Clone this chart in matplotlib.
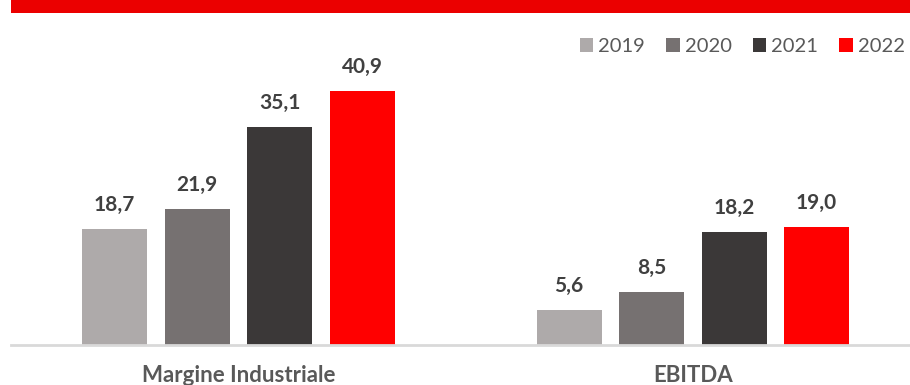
import matplotlib
matplotlib.use("Agg")
import matplotlib.pyplot as plt
import numpy as np
from matplotlib.patches import Rectangle

categories = ["Margine Industriale", "EBITDA"]
years = ["2019", "2020", "2021", "2022"]
values = {
    "2019": [18.7, 5.6],
    "2020": [21.9, 8.5],
    "2021": [35.1, 18.2],
    "2022": [40.9, 19.0],
}
labels = {
    "2019": ["18,7", "5,6"],
    "2020": ["21,9", "8,5"],
    "2021": ["35,1", "18,2"],
    "2022": ["40,9", "19,0"],
}
title = "Marginalità (€m)"
colors = ["#AEAAAA", "#767171", "#3B3838", "#FF0000"]

plt.rcParams['font.family'] = ['Lato', 'DejaVu Sans']

W, H = 910, 385
fig = plt.figure(figsize=(W/100, H/100), dpi=100)

# banner
fig.patches.append(Rectangle((11/W, 1-13/H), 1-11/W, 13/H, transform=fig.transFigure,
                             facecolor="#EB0000", edgecolor="none", zorder=0))
fig.text(470/W, 1+3/H, title, color="white", fontsize=14, fontweight="bold",
         ha="center", va="baseline")

left_px, right_px = 11, 910
base_px = 345
ax_h_px = base_px - 30
ax = fig.add_axes([left_px/W, (H-base_px)/H, (right_px-left_px)/W, ax_h_px/H])
spacing = 454.5
x0 = -0.5
x1 = x0 + (right_px-left_px)/spacing
ax.set_xlim(x0, x1)
ppu = 6.21
ax.set_ylim(0, ax_h_px/ppu)

x = np.arange(len(categories))
bw = 65/spacing
pitch = 82.5/spacing
handles = []
for i, y in enumerate(years):
    pos = x + (i-1.5)*pitch
    bars = ax.bar(pos, values[y], width=bw, color=colors[i], label=y, zorder=2)
    handles.append(bars)
    for b, lab in zip(bars, labels[y]):
        ax.annotate(lab, (b.get_x()+b.get_width()/2, b.get_height()),
                    xytext=(0, 18*0.72), textcoords="offset points",
                    ha="center", va="baseline", fontsize=15, fontweight="bold",
                    color="#404040")

for s in ["top", "right", "left"]:
    ax.spines[s].set_visible(False)
ax.spines["bottom"].set_color("#D9D9D9")
ax.spines["bottom"].set_linewidth(2)
ax.set_yticks([])
ax.set_xticks([])

tr = ax.get_xaxis_transform()
for xi, cat in zip(x, categories):
    ax.text(xi, -(382-base_px)/ax_h_px, cat, transform=tr, ha="center", va="baseline",
            fontsize=16, fontweight="bold", color="#595959", clip_on=False)

leg = fig.legend(handles=handles, labels=years, loc="center right",
                 bbox_to_anchor=(905/W, 1-46.5/H), bbox_transform=fig.transFigure,
                 ncol=4, frameon=False, borderpad=0, borderaxespad=0,
                 fontsize=14.5, handlelength=0.67, handleheight=0.67, handletextpad=0.25,
                 columnspacing=1.05, labelcolor="#595959")

fig.savefig("out.png", dpi=100)
